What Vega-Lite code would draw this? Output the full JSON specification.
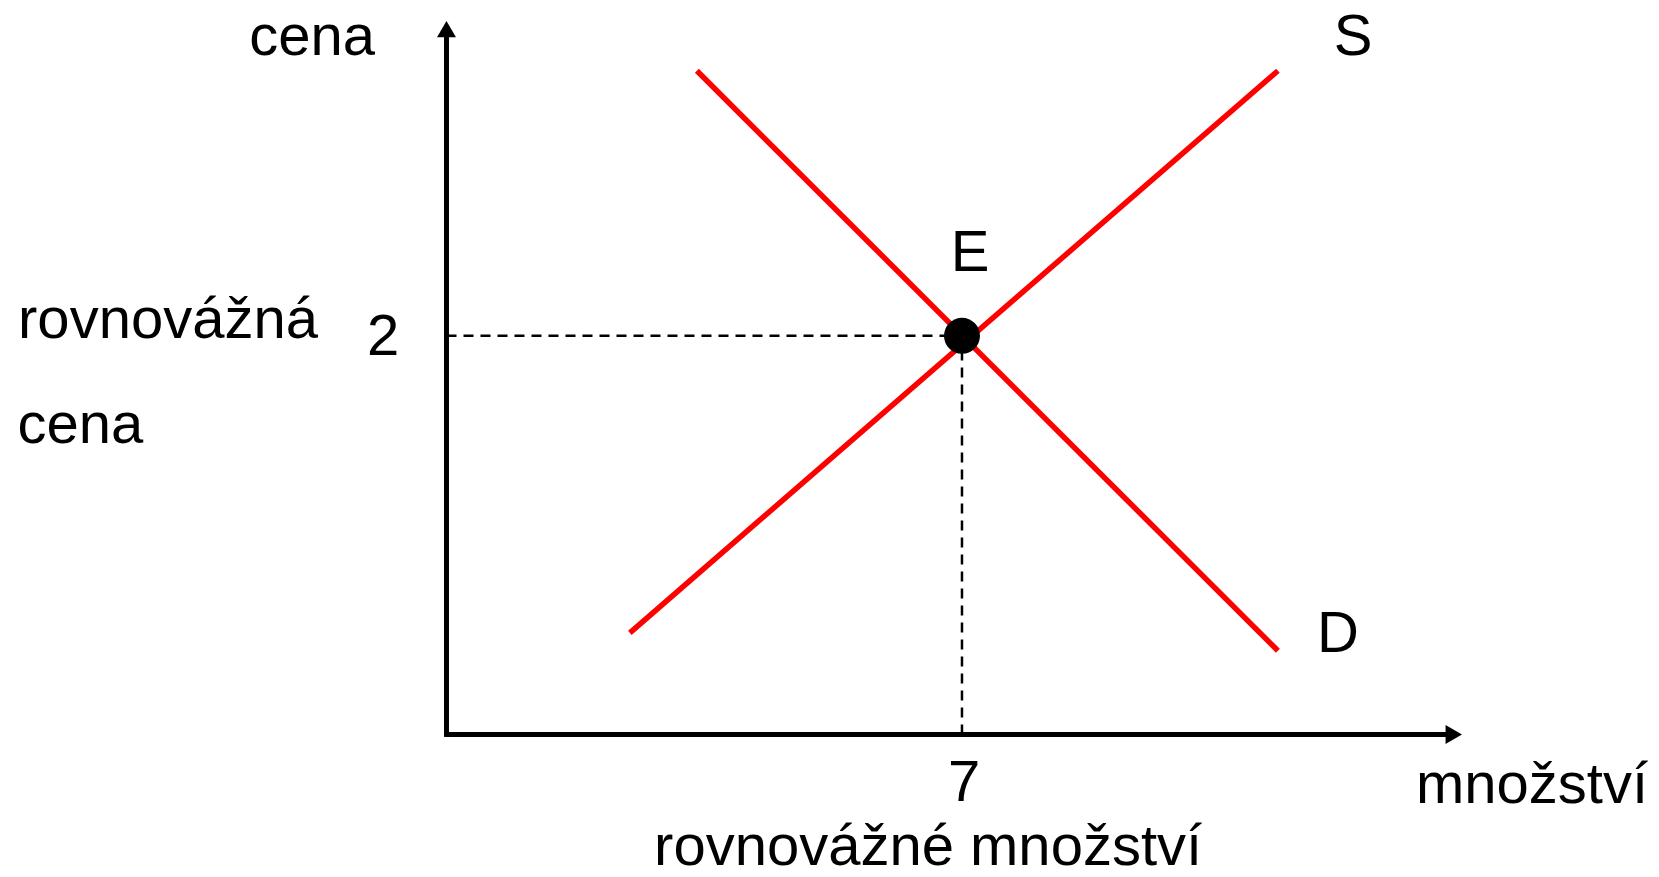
{
  "$schema": "https://vega.github.io/schema/vega-lite/v6.json",
  "width": 1659,
  "height": 877,
  "padding": 0,
  "autosize": {"type": "fit", "contains": "padding"},
  "background": "white",
  "config": {"view": {"stroke": null}},
  "datasets": {
    "guides": [
      {"q": 0, "p": 2, "q2": 7, "p2": 2},
      {"q": 7, "p": 0, "q2": 7, "p2": 2}
    ],
    "axes": [
      {"q": -0.03, "p": 0, "q2": 13.678, "p2": 0},
      {"q": 0, "p": -0.01, "q2": 0, "p2": 3.539}
    ],
    "arrowX": [{"q": 13.678, "p": 0}],
    "arrowY": [{"q": 0, "p": 3.539}],
    "curves": [
      {"curve": "S", "q": 2.49, "p": 0.51},
      {"curve": "S", "q": 11.29, "p": 3.33},
      {"curve": "D", "q": 3.40, "p": 3.33},
      {"curve": "D", "q": 11.29, "p": 0.42}
    ],
    "equilibrium": [{"q": 7, "p": 2}],
    "labels": [
      {"label": "cena", "q": -1.826, "p": 3.41},
      {"label": "S", "q": 12.31, "p": 3.41},
      {"label": "E", "q": 7.11, "p": 2.325},
      {"label": "rovnovážná", "q": -3.782, "p": 1.99},
      {"label": "cena", "q": -4.973, "p": 1.46},
      {"label": "2", "q": -0.862, "p": 1.905},
      {"label": "D", "q": 12.105, "p": 0.415},
      {"label": "7", "q": 7.03, "p": -0.335},
      {"label": "množství", "q": 14.74, "p": -0.345},
      {"label": "rovnovážné množství", "q": 6.54, "p": -0.655}
    ]
  },
  "encoding": {
    "x": {"field": "q", "type": "quantitative", "axis": null, "scale": {"domain": [-6.063, 16.465], "nice": false, "zero": false}},
    "y": {"field": "p", "type": "quantitative", "axis": null, "scale": {"domain": [-0.7, 3.685], "nice": false, "zero": false}}
  },
  "layer": [
    {
      "data": {"name": "guides"},
      "mark": {"type": "rule", "color": "black", "strokeWidth": 2.5, "strokeDash": [10, 7]},
      "encoding": {"x2": {"field": "q2"}, "y2": {"field": "p2"}}
    },
    {
      "data": {"name": "axes"},
      "mark": {"type": "rule", "color": "black", "strokeWidth": 5},
      "encoding": {"x2": {"field": "q2"}, "y2": {"field": "p2"}}
    },
    {
      "data": {"name": "arrowX"},
      "mark": {"type": "point", "shape": "triangle-right", "filled": true, "color": "black", "size": 360, "opacity": 1}
    },
    {
      "data": {"name": "arrowY"},
      "mark": {"type": "point", "shape": "triangle-up", "filled": true, "color": "black", "size": 360, "opacity": 1}
    },
    {
      "data": {"name": "curves"},
      "mark": {"type": "line", "color": "#FF0000", "strokeWidth": 5.5, "strokeCap": "butt"},
      "encoding": {"detail": {"field": "curve", "type": "nominal"}}
    },
    {
      "data": {"name": "equilibrium"},
      "mark": {"type": "point", "shape": "circle", "filled": true, "color": "black", "size": 1296, "opacity": 1}
    },
    {
      "data": {"name": "labels"},
      "mark": {"type": "text", "font": "Liberation Sans", "fontSize": 58, "color": "black", "align": "center", "baseline": "alphabetic"},
      "encoding": {"text": {"field": "label", "type": "nominal"}}
    }
  ]
}
